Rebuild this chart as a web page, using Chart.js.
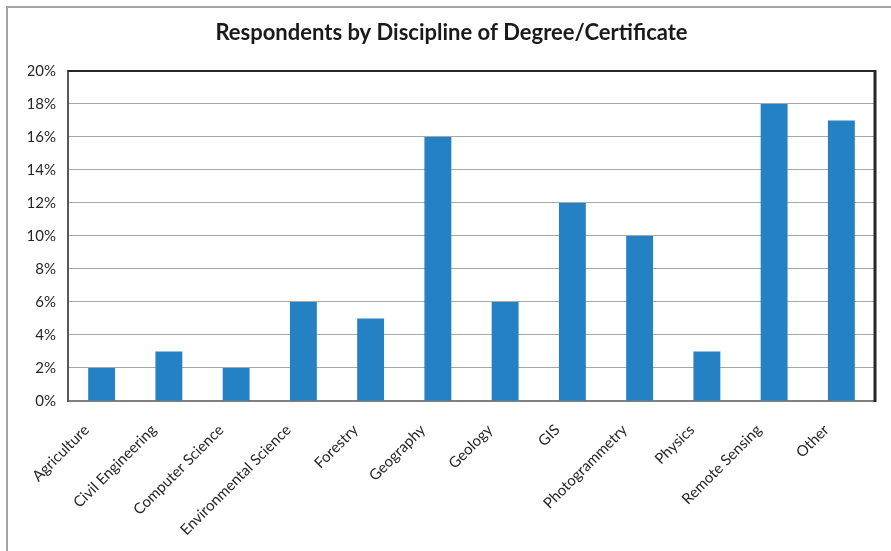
<!DOCTYPE html>
<html>
<head>
<meta charset="utf-8">
<title>Respondents by Discipline of Degree/Certificate</title>
<script src="https://cdn.jsdelivr.net/npm/chart.js@4/dist/chart.umd.min.js"></script>
<style>
  html, body { margin: 0; padding: 0; background: #ffffff; overflow: hidden; }
  #wrap { position: relative; width: 891px; height: 551px; }
  #frame { position: absolute; left: 6px; top: 6px; width: 1000px; height: 1000px;
           border: 2px solid #a3a3a3; box-sizing: border-box; }
  #chart { position: absolute; left: 0; top: 0; }
</style>
</head>
<body>
<div id="wrap">
  <div id="frame"></div>
  <canvas id="chart" width="891" height="551"></canvas>
</div>
<script>
// Disciplines and the share of respondents holding each (percent)
const disciplines = [
  'Agriculture', 'Civil Engineering', 'Computer Science', 'Environmental Science',
  'Forestry', 'Geography', 'Geology', 'GIS', 'Photogrammetry', 'Physics',
  'Remote Sensing', 'Other'
];
const respondentShare = [2, 3, 2, 6, 5, 16, 6, 12, 10, 3, 18, 17];
const shareTicks = [0, 2, 4, 6, 8, 10, 12, 14, 16, 18, 20];

const FONT = "Lato, 'Open Sans', 'Liberation Sans', sans-serif";

// Dark frame on the top and right of the plot area
const plotFrame = {
  id: 'plotFrame',
  afterDraw(chart) {
    const { ctx, chartArea: a } = chart;
    ctx.save();
    ctx.strokeStyle = '#262626';
    ctx.lineWidth = 2;
    ctx.beginPath();
    ctx.moveTo(a.left, a.top);
    ctx.lineTo(a.right, a.top);
    ctx.stroke();
    ctx.lineWidth = 3;
    ctx.beginPath();
    ctx.moveTo(a.right, a.top - 1);
    ctx.lineTo(a.right, a.bottom + 1);
    ctx.stroke();
    ctx.restore();
  }
};

new Chart(document.getElementById('chart'), {
  type: 'bar',
  data: {
    labels: disciplines,
    datasets: [{
      data: respondentShare,
      backgroundColor: '#2481c3',
      borderWidth: 0,
      barPercentage: 0.4,
      categoryPercentage: 1
    }]
  },
  options: {
    responsive: false,
    animation: false,
    devicePixelRatio: 1,
    layout: { padding: { left: 28, right: 16, top: 0, bottom: 0 } },
    plugins: {
      legend: { display: false },
      tooltip: { enabled: false },
      title: {
        display: true,
        text: 'Respondents by Discipline of Degree/Certificate',
        color: '#1a1a1a',
        font: { family: FONT, size: 22, weight: 'bold', lineHeight: 1.2 },
        padding: { top: 20, bottom: 24.5 }
      }
    },
    scales: {
      x: {
        grid: { display: false, drawTicks: false },
        border: { color: '#7f7f7f', width: 2 },
        ticks: {
          color: '#262626',
          font: { family: FONT, size: 15 },
          maxRotation: 45,
          minRotation: 45,
          padding: 20,
          labelOffset: -15,
          autoSkip: false
        },
        afterFit(scale) { scale.height = 150; }
      },
      y: {
        min: 0,
        max: 20,
        afterBuildTicks(scale) { scale.ticks = shareTicks.map(v => ({ value: v })); },
        grid: { color: '#a6a6a6', lineWidth: 1, drawTicks: false },
        border: { color: '#595959', width: 2 },
        ticks: {
          color: '#262626',
          font: { family: FONT, size: 15 },
          padding: 12,
          callback: v => v + '%'
        },
        afterFit(scale) { scale.width = 40; }
      }
    }
  },
  plugins: [plotFrame]
});
</script>
</body>
</html>
